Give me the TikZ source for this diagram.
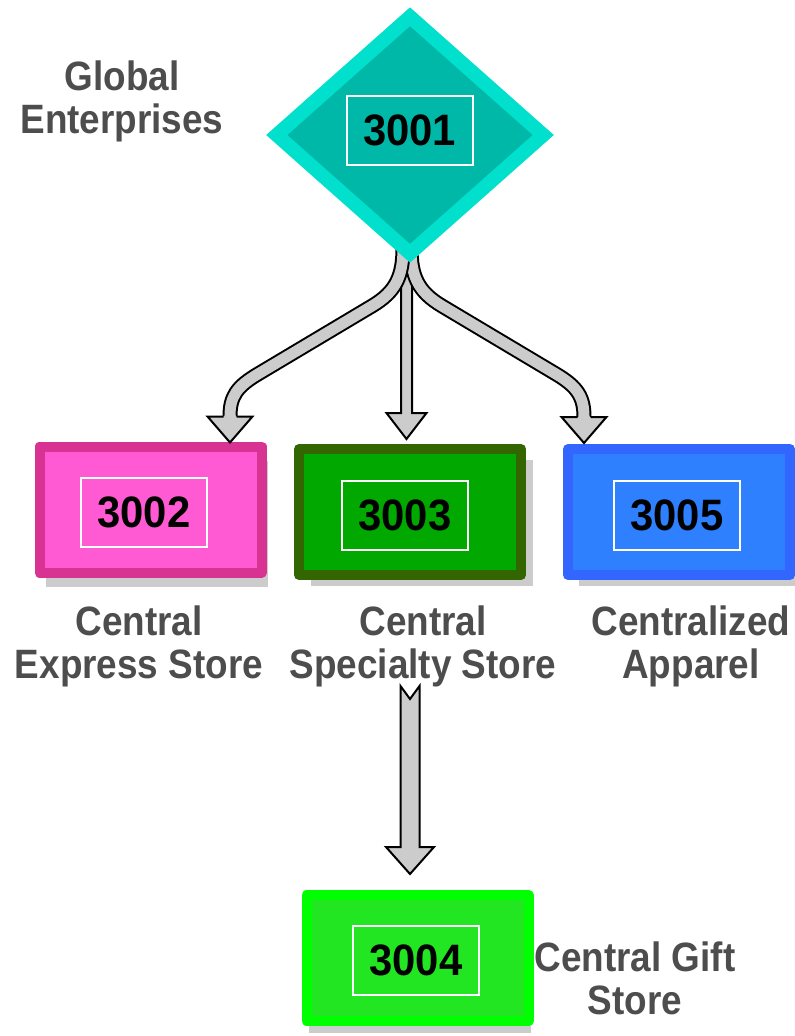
\documentclass[tikz,border=0pt]{standalone}
\usepackage{fontspec}
\setmainfont{Liberation Sans}
\newfontfamily\captionface{Liberation Sans}[FakeStretch=0.9]
\newfontfamily\idface{Liberation Sans}[FakeStretch=0.95]
\usetikzlibrary{shapes.geometric,shadows,calc}

\pgfdeclarelayer{canvas}
\pgfdeclarelayer{boxes}
\pgfdeclarelayer{links}
\pgfsetlayers{canvas,boxes,links,main}

\definecolor{diamondrim}{HTML}{00E0CC}
\definecolor{diamondfill}{HTML}{00B8A8}
\definecolor{pinkrim}{HTML}{D83393}
\definecolor{pinkfill}{HTML}{FF5AD4}
\definecolor{olivegreenrim}{HTML}{336600}
\definecolor{olivegreenfill}{HTML}{00A800}
\definecolor{bluerim}{HTML}{3366FF}
\definecolor{bluefill}{HTML}{2E80FF}
\definecolor{limerim}{HTML}{00FF00}
\definecolor{limefill}{HTML}{22E622}
\definecolor{shadowgray}{HTML}{CCCCCC}
\definecolor{arrowgray}{HTML}{CCCCCC}
\definecolor{captiongray}{HTML}{4D4D4D}

\tikzset{
  unitbox/.style={rectangle, line width=10pt, line join=round, inner sep=0pt,
    outer sep=5pt, minimum width=222pt, minimum height=126pt},
  boxshadow/.style 2 args={drop shadow={shadow xshift=#1, shadow yshift=#2,
    fill=shadowgray, opacity=1}},
  idtag/.style={rectangle, draw=white, line width=2pt, inner sep=0pt,
    minimum width=126pt, minimum height=69pt, text=black,
    font=\idface\bfseries\fontsize{44}{44}\selectfont},
  tagline/.style={align=center, inner sep=0pt, text=captiongray,
    font=\captionface\bfseries\fontsize{41}{43}\selectfont},
  shaft/.style={line width=15pt, black, line join=round},
  shaftcore/.style={line width=11pt, arrowgray, line join=round},
  blockarrow/.style={fill=arrowgray, draw=black, line width=2pt, line join=miter}
}

% arrow head of a curved block arrow: #1 = centre of the head base, #2 = tip
\newcommand\arrowcap[2]{%
  \fill[arrowgray] let \p1=(#1), \p2=(#2) in
    (\x1-5.5pt,\y1+1.5pt) -- (\x1-5.5pt,\y1) -- (\x1-22.5pt,\y1) -- (\x2,\y2)
    -- (\x1+22.5pt,\y1) -- (\x1+5.5pt,\y1) -- (\x1+5.5pt,\y1+1.5pt) -- cycle;
  \draw[black, line width=2pt, line join=miter] let \p1=(#1), \p2=(#2) in
    (\x1-6.5pt,\y1) -- (\x1-22.5pt,\y1) -- (\x2,\y2) -- (\x1+22.5pt,\y1)
    -- (\x1+6.5pt,\y1);}

\begin{document}
\begin{tikzpicture}[x=1pt,y=-1pt]
\useasboundingbox (0,0) rectangle (795,1036);
\begin{pgfonlayer}{canvas}
  \fill[white] (0,0) rectangle (795,1036);
\end{pgfonlayer}

% store boxes
\begin{pgfonlayer}{boxes}
  \node[unitbox, draw=pinkrim, fill=pinkfill, boxshadow={6pt}{-14pt}] (ces) at (150.5,509.5) {};
  \node[idtag] (n3002) at (144,512.5) {3002};
  \node[unitbox, draw=olivegreenrim, fill=olivegreenfill, boxshadow={12pt}{-11pt}] (css) at (410,512) {};
  \node[idtag] (n3003) at (405,515.5) {3003};
  \node[unitbox, draw=bluerim, fill=bluefill, boxshadow={11pt}{-11pt}] (cap) at (679,512) {};
  \node[idtag] (n3005) at (677,515.5) {3005};
  \node[unitbox, draw=limerim, fill=limefill, boxshadow={2pt}{-12pt}] (cgs) at (417.5,958) {};
  \node[idtag] (n3004) at (416,960.5) {3004};
\end{pgfonlayer}

% head office
\node[diamond, aspect=1.13, minimum width=274pt, minimum height=244pt, inner sep=0pt,
      outer sep=9pt, line width=14pt, line join=miter, draw=diamondrim, fill=diamondfill]
      (ge) at (410,135) {};
\node[idtag] (n3001) at (409.5,130.5) {3001};

% block arrows
\begin{pgfonlayer}{links}
  % straight arrow to 3003
  \coordinate (mtail) at ($(ge.south)+(-3.5,-18)$);
  \coordinate (mtip) at ($(css.north)+(-3.5,-5)$);
  \draw[blockarrow] let \p1=(mtail), \p2=(mtip) in
    (\x1-5.5pt,\y1) -- (\x1-5.5pt,\y2+26pt) -- (\x1-20pt,\y2+26pt) -- (\x2,\y2)
    -- (\x1+20pt,\y2+26pt) -- (\x1+5.5pt,\y2+26pt) -- (\x1+5.5pt,\y1) -- cycle;

  % curved arrow to 3005
  \coordinate (rtail) at ($(ge.south)+(1,-18)$);
  \coordinate (rbend1) at (442,306);
  \coordinate (rbend2) at (556,374);
  \coordinate (rbase) at ($(cap.north)+(-95,-27)$);
  \coordinate (rtip) at ($(cap.north)+(-95,-1)$);
  \draw[shaft] (rtail) .. controls +(0,28) and +(-24,-14.3) .. (rbend1) -- (rbend2)
    .. controls +(21.5,12.8) and +(0,-20) .. (rbase);
  \draw[shaftcore] (rtail) .. controls +(0,28) and +(-24,-14.3) .. (rbend1) -- (rbend2)
    .. controls +(21.5,12.8) and +(0,-20) .. (rbase);
  \arrowcap{rbase}{rtip}

  % curved arrow to 3002
  \coordinate (ltail) at ($(ge.south)+(-7,-18)$);
  \coordinate (lbend1) at (372,306);
  \coordinate (lbend2) at (258,374);
  \coordinate (lbase) at ($(ces.north)+(79.5,-25)$);
  \coordinate (ltip) at ($(ces.north)+(79.5,1)$);
  \draw[shaft] (ltail) .. controls +(0,28) and +(24,-14.3) .. (lbend1) -- (lbend2)
    .. controls +(-21.5,12.8) and +(0,-20) .. (lbase);
  \draw[shaftcore] (ltail) .. controls +(0,28) and +(24,-14.3) .. (lbend1) -- (lbend2)
    .. controls +(-21.5,12.8) and +(0,-20) .. (lbase);
  \arrowcap{lbase}{ltip}

  % notched arrow from 3003 down to 3004
  \coordinate (btail) at ($(css.south)+(0,106)$);
  \coordinate (btip) at ($(cgs.north)+(-7.5,-16)$);
  \draw[blockarrow] let \p1=(btail), \p2=(btip) in
    (\x1-9.5pt,\y1) -- (\x1-9.5pt,\y2+27pt) -- (\x1-24pt,\y2+27pt) -- (\x2,\y2)
    -- (\x1+24pt,\y2+27pt) -- (\x1+9.5pt,\y2+27pt) -- (\x1+9.5pt,\y1)
    -- (\x1,\y1-13pt) -- cycle;
\end{pgfonlayer}

% names
\node[tagline, anchor=north] (geText) at (122,61) {Global\\Enterprises};
\node[tagline, anchor=north] (cesText) at (139,606) {Central\\Express Store};
\node[tagline, anchor=north] (cssText) at (423,606) {Central\\Specialty Store};
\node[tagline, anchor=north] (capText) at (691,606) {Centralized\\Apparel};
\node[tagline, anchor=north] (cgsText) at (635,942) {Central Gift\\Store};
\end{tikzpicture}
\end{document}
